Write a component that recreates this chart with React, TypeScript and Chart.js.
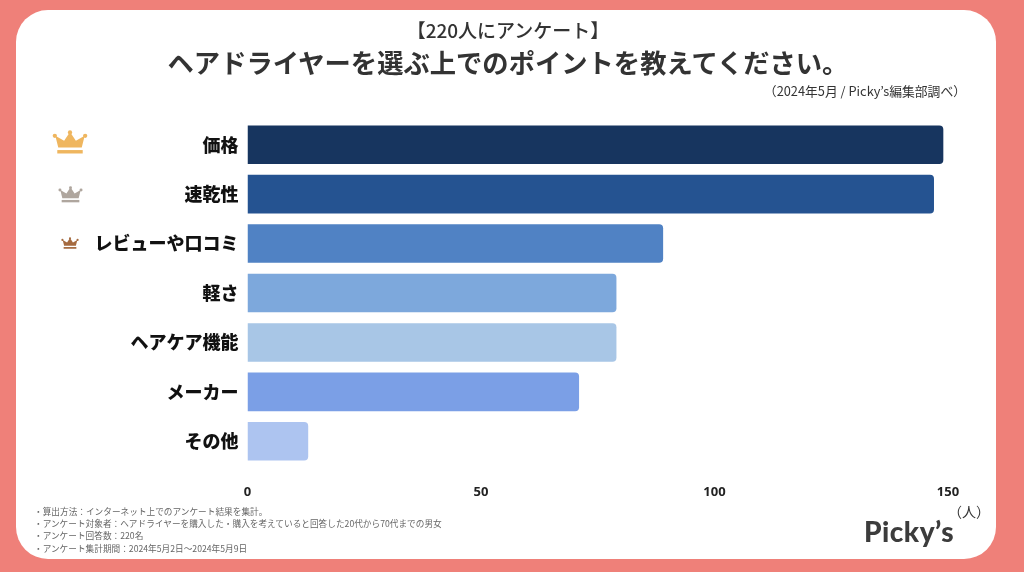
import React, { useEffect, useRef } from "react";
import { Chart, registerables } from "chart.js";

Chart.register(...registerables);

const categories = ["価格", "速乾性", "レビューや口コミ", "軽さ", "ヘアケア機能", "メーカー", "その他"];
const respondents = [149, 147, 89, 79, 79, 71, 13];
const barColors = ["#17355F", "#255391", "#5082C4", "#7DA8DC", "#A8C6E6", "#7B9FE6", "#ADC4F0"];
const xTicks = [0, 50, 100, 150];
const notes = [
  "・算出方法:インターネット上でのアンケート結果を集計。",
  "・アンケート対象者:ヘアドライヤーを購入した・購入を考えていると回答した20代から70代までの男女",
  "・アンケート回答数:220名",
  "・アンケート集計期間:2024年5月2日〜2024年5月9日",
];

const JP = '"Noto Sans CJK JP", "Noto Sans", sans-serif';

function Crown({ x, y, w, color }: { x: number; y: number; w: number; color: string }) {
  return (
    <svg style={{ position: "absolute", left: x, top: y }} width={w} height={w * 0.68} viewBox="0 0 36 25">
      <path fill={color} d="M18 2 L24 11 L33 6 L30 18 L6 18 L3 6 L12 11 Z" />
      <circle cx="18" cy="2.5" r="2.2" fill={color} />
      <circle cx="2.5" cy="6" r="2.2" fill={color} />
      <circle cx="33.5" cy="6" r="2.2" fill={color} />
      <rect x="5" y="20.5" width="26" height="3.5" fill={color} />
    </svg>
  );
}

export default function App() {
  const ref = useRef<HTMLCanvasElement>(null);

  useEffect(() => {
    document.body.style.margin = "0";
    const chart = new Chart(ref.current!, {
      type: "bar",
      data: {
        labels: categories,
        datasets: [
          {
            data: respondents,
            backgroundColor: barColors,
            borderWidth: 0,
            borderRadius: 4,
            barPercentage: 0.78,
            categoryPercentage: 1,
          },
        ],
      },
      options: {
        indexAxis: "y",
        responsive: false,
        animation: false,
        layout: { padding: { left: 0, top: 120, right: 76, bottom: 0 } },
        plugins: { legend: { display: false }, title: { display: false }, tooltip: { enabled: false } },
        scales: {
          x: {
            type: "linear",
            min: 0,
            max: 150,
            grid: { display: false },
            border: { display: false },
            afterBuildTicks: (s: any) => {
              s.ticks = xTicks.map((value) => ({ value }));
            },
            afterFit: (s: any) => {
              s.height = 106;
            },
            ticks: {
              color: "#222222",
              padding: 10,
              maxRotation: 0,
              font: { family: '"Open Sans", ' + JP, size: 13, weight: "bold" },
            },
          },
          y: {
            grid: { display: false },
            border: { display: false },
            afterFit: (s: any) => {
              s.width = 247.5;
            },
            ticks: {
              color: "#111111",
              padding: 1,
              font: { family: JP, size: 18, weight: "900" },
            },
          },
        },
      },
    });
    return () => chart.destroy();
  }, []);

  return (
    <div style={{ position: "relative", width: 1024, height: 572, background: "#EF8079", overflow: "hidden", fontFamily: JP }}>
      <div style={{ position: "absolute", left: 16, top: 10, width: 980, height: 549, background: "#FFFFFF", borderRadius: 32 }} />
      <canvas ref={ref} width={1024} height={572} style={{ position: "absolute", left: 0, top: 0, display: "block" }} />
      <div style={{ position: "absolute", left: 0, width: 1016, top: 17, textAlign: "center", fontSize: 19, fontWeight: 500, color: "#333", lineHeight: "25px", whiteSpace: "nowrap" }}>
        【220人にアンケート】
      </div>
      <div style={{ position: "absolute", left: 0, width: 1016, top: 44, textAlign: "center", fontSize: 26.3, fontWeight: 700, color: "#333", lineHeight: "36px", whiteSpace: "nowrap" }}>
        ヘアドライヤーを選ぶ上でのポイントを教えてください。
      </div>
      <div style={{ position: "absolute", right: 58, top: 82, fontSize: 12.8, color: "#333", lineHeight: "18px", whiteSpace: "nowrap" }}>
        {"\uFF082024年5月 / Picky’s編集部調べ\uFF09"}
      </div>
      <Crown x={52} y={130} w={36} color="#EFB65F" />
      <Crown x={58} y={186} w={25} color="#AFA69E" />
      <Crown x={61} y={237} w={18} color="#A56A3F" />
      <div style={{ position: "absolute", left: 34, top: 505, fontSize: 8.67, color: "#666", lineHeight: "12.2px", whiteSpace: "nowrap" }}>
        {notes.map((n) => (
          <div key={n}>{n.replace(":", "\uFF1A")}</div>
        ))}
      </div>
      <div style={{ position: "absolute", left: 864, top: 511, fontFamily: '"Lato", sans-serif', fontSize: 28, fontWeight: 900, color: "#3C3C3C", lineHeight: "40px", whiteSpace: "nowrap", letterSpacing: 0.5 }}>
        Picky’s
      </div>
      <div style={{ position: "absolute", left: 948, top: 501, fontSize: 14, color: "#333", lineHeight: "20px", whiteSpace: "nowrap" }}>
        {"\uFF08人\uFF09"}
      </div>
    </div>
  );
}
